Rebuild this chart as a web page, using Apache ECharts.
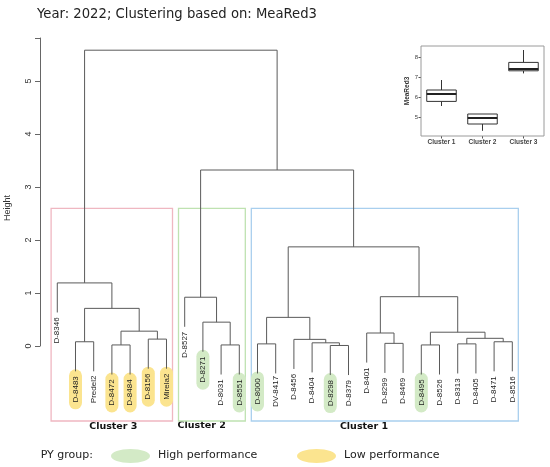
<!DOCTYPE html>
<html><head><meta charset="utf-8">
<script src="https://cdn.jsdelivr.net/npm/echarts@6/dist/echarts.min.js"></script>
<style>html,body{margin:0;padding:0;background:#fff}#c{width:550px;height:467px}</style>
</head><body><div id="c"></div>
<script>
// ---------- data ----------
const titleText = 'Year: 2022; Clustering based on: MeaRed3';
const leafLabels = ['D-8346','D-8483','Predel2','D-8472','D-8484','D-8156','Mirela2',
  'D-8527','D-8271','D-8031','D-8551',
  'D-8000','DV-8417','D-8456','D-8404','D-8298','D-8379','D-8401','D-8299','D-8469',
  'D-8495','D-8526','D-8313','D-8405','D-8471','D-8516'];
const pyGroup = ['', 'low', '', 'low', 'low', 'low', 'low',
  '', 'high', '', 'high',
  'high', '', '', '', 'high', '', '', '', '', 'high', '', '', '', '', ''];
// merges (R hclust style): negative = leaf number (1-based), positive = earlier merge (1-based)
const merges = [
  [-16, -17, 0.01], [-4, -5, 0.02], [-10, -11, 0.02], [-21, -22, 0.02],
  [-12, -13, 0.04], [-23, -24, 0.04], [-19, -20, 0.05], [-15, 1, 0.06],
  [-2, -3, 0.08], [-25, -26, 0.08], [-14, 8, 0.125], [-6, -7, 0.13],
  [6, 10, 0.145], [-18, 7, 0.245], [4, 13, 0.26], [2, 12, 0.28],
  [-9, 3, 0.45], [5, 11, 0.54], [9, 16, 0.71], [-8, 17, 0.92],
  [14, 15, 0.93], [-1, 19, 1.19], [18, 21, 1.87], [20, 23, 3.32], [22, 24, 5.58]
];
const heightTicks = [0, 1, 2, 3, 4, 5];
const clusterNames = ['Cluster 3', 'Cluster 2', 'Cluster 1'];
const clusterSizes = [7, 4, 15];
const boxCategories = ['Cluster 1', 'Cluster 2', 'Cluster 3'];
// [min, Q1, median, Q3, max]
const boxStats = [
  [5.57, 5.80, 6.17, 6.37, 6.87],
  [4.33, 4.67, 4.97, 5.17, 5.17],
  [7.20, 7.33, 7.42, 7.75, 8.37]
];
const boxTicks = [5, 6, 7, 8];
const legendItems = ['High performance', 'Low performance'];

// ---------- derived tree geometry ----------
const nodeX = [];
function xOf(r) { return r < 0 ? (-r - 1) : nodeX[r - 1]; }
merges.forEach((m, i) => { nodeX[i] = (xOf(m[0]) + xOf(m[1])) / 2; });
const hang = 0.1 * Math.max(...merges.map(m => m[2]));
const leafEnd = [];
merges.forEach(m => { [m[0], m[1]].forEach(r => { if (r < 0) leafEnd[-r - 1] = m[2] - hang; }); });
function yOf(r) { return r < 0 ? leafEnd[-r - 1] : merges[r - 1][2]; }
const sortedH = merges.map(m => m[2]).sort((a, b) => b - a);
const cutH = (sortedH[clusterNames.length - 2] + sortedH[clusterNames.length - 1]) / 2;
const clusterRects = [];
let start = 0;
clusterSizes.forEach(n => { clusterRects.push([start - 0.34, start + n - 1 + 0.33, cutH]); start += n; });

const FONT = '"DejaVu Sans", Verdana, sans-serif';
const AFONT = '"Liberation Sans", Arial, sans-serif';
const COL = { high: '#d3eac6', low: '#fbe48f' };
const rectCols = ['#efb7c1', '#bfe2b1', '#a9cfee'];

const dendroSeries = merges.map(m => ({
  type: 'line', xAxisIndex: 0, yAxisIndex: 0, symbol: 'none', clip: false, silent: true,
  animation: false, z: 3,
  lineStyle: { color: '#5a5a5a', width: 1 },
  data: [[xOf(m[0]), yOf(m[0])], [xOf(m[0]), m[2]], [xOf(m[1]), m[2]], [xOf(m[1]), yOf(m[1])]]
}));

const option = {
  animation: false,
  grid: [
    { left: 40, top: 38, width: 489.6, height: 308, containLabel: false },
    { left: 421, top: 46, width: 123, height: 90, show: true, borderColor: '#9a9a9a', borderWidth: 1, backgroundColor: 'transparent', z: 1 }
  ],
  xAxis: [
    { type: 'value', gridIndex: 0, min: -0.95, max: 25.95, show: false },
    { type: 'category', gridIndex: 1, data: boxCategories, boundaryGap: true,
      axisLine: { show: false },
      axisTick: { show: true, alignWithLabel: true, length: 2.5, lineStyle: { color: '#555' } },
      axisLabel: { fontFamily: AFONT, fontSize: 6.5, fontWeight: 'bold', color: '#444', margin: 3 } }
  ],
  yAxis: [
    { type: 'value', gridIndex: 0, min: 0, max: 5.81, interval: 1,
      axisLine: { show: true, onZero: false, lineStyle: { color: '#666', width: 1 } },
      axisTick: { show: true, length: 5, lineStyle: { color: '#666' } },
      splitLine: { show: false },
      axisLabel: { rotate: 90, margin: 7, fontFamily: AFONT, fontSize: 9, color: '#333',
        customValues: heightTicks } },
    { type: 'value', gridIndex: 1, min: 4.07, max: 8.57,
      axisLine: { show: false, onZero: false }, splitLine: { show: false },
      axisTick: { show: true, length: 2.5, customValues: boxTicks, lineStyle: { color: '#555' } },
      axisLabel: { fontFamily: AFONT, fontSize: 6, color: '#444', margin: 3, customValues: boxTicks },
      name: 'MeaRed3', nameLocation: 'middle', nameGap: 6, nameRotate: 90,
      nameTextStyle: { fontFamily: AFONT, fontSize: 6.5, fontWeight: 'bold', color: '#333' } }
  ],
  graphic: [
    { type: 'text', x: 37, y: 15, style: { text: titleText, font: '13.2px ' + FONT, fill: '#222', verticalAlign: 'middle' } },
    { type: 'text', x: 8, y: 208, rotation: Math.PI / 2, style: { text: 'Height', font: '9px ' + AFONT, fill: '#333', align: 'center', verticalAlign: 'middle' } },
    { type: 'text', x: 113.3, y: 427, style: { text: clusterNames[0], font: 'bold 9.5px ' + FONT, fill: '#111', align: 'center', verticalAlign: 'middle' } },
    { type: 'text', x: 201.7, y: 425.5, style: { text: clusterNames[1], font: 'bold 9.5px ' + FONT, fill: '#111', align: 'center', verticalAlign: 'middle' } },
    { type: 'text', x: 364, y: 427, style: { text: clusterNames[2], font: 'bold 9.5px ' + FONT, fill: '#111', align: 'center', verticalAlign: 'middle' } },
    { type: 'text', x: 40.7, y: 455.5, style: { text: 'PY group:', font: '11px ' + FONT, fill: '#222', verticalAlign: 'middle' } },
    { type: 'ellipse', shape: { cx: 130.5, cy: 456, rx: 19.5, ry: 7 }, style: { fill: COL.high } },
    { type: 'text', x: 158, y: 455.5, style: { text: legendItems[0], font: '11px ' + FONT, fill: '#222', verticalAlign: 'middle' } },
    { type: 'ellipse', shape: { cx: 316.5, cy: 456, rx: 19.5, ry: 7 }, style: { fill: COL.low } },
    { type: 'text', x: 344, y: 455.5, style: { text: legendItems[1], font: '11px ' + FONT, fill: '#222', verticalAlign: 'middle' } }
  ],
  series: [
    { type: 'custom', xAxisIndex: 0, yAxisIndex: 0, silent: true, z: 1,
      data: clusterRects,
      renderItem: (params, api) => {
        const a = api.coord([api.value(0), api.value(2)]);
        const b = api.coord([api.value(1), api.value(2)]);
        return { type: 'rect', shape: { x: a[0], y: a[1], width: b[0] - a[0], height: 421 - a[1] },
          style: { fill: 'none', stroke: rectCols[params.dataIndex], lineWidth: 1.3 } };
      } },
    { type: 'custom', xAxisIndex: 0, yAxisIndex: 0, silent: true, z: 2,
      data: leafLabels.map((n, i) => [i, leafEnd[i]]),
      renderItem: (params, api) => {
        const i = params.dataIndex;
        const c = api.coord([api.value(0), api.value(1)]);
        const cy = c[1] + 18;
        const ch = [];
        if (pyGroup[i]) ch.push({ type: 'rect', shape: { x: c[0] - 6.5, y: cy - 20, width: 13, height: 40, r: 6.5 }, style: { fill: COL[pyGroup[i]] } });
        ch.push({ type: 'text', x: c[0], y: cy, rotation: Math.PI / 2,
          style: { text: leafLabels[i], font: '8px ' + AFONT, fill: '#222', align: 'center', verticalAlign: 'middle' } });
        return { type: 'group', children: ch };
      } },
    ...dendroSeries,
    { type: 'custom', xAxisIndex: 1, yAxisIndex: 1, silent: true, z: 3,
      data: boxStats.map((s, i) => [i, ...s]),
      encode: { x: 0, y: [1, 2, 3, 4, 5] },
      renderItem: (params, api) => {
        const x = api.value(0);
        const p = [1, 2, 3, 4, 5].map(k => api.coord([x, api.value(k)]));
        const w = api.size([1, 0])[0] * 0.72;
        const cx = p[0][0];
        const st = { stroke: '#333', lineWidth: 1, fill: 'none' };
        return { type: 'group', children: [
          { type: 'line', shape: { x1: cx, y1: p[0][1], x2: cx, y2: p[1][1] }, style: st },
          { type: 'line', shape: { x1: cx, y1: p[3][1], x2: cx, y2: p[4][1] }, style: st },
          { type: 'rect', shape: { x: cx - w / 2, y: p[3][1], width: w, height: p[1][1] - p[3][1] }, style: { stroke: '#333', lineWidth: 1, fill: '#fff' } },
          { type: 'line', shape: { x1: cx - w / 2, y1: p[2][1], x2: cx + w / 2, y2: p[2][1] }, style: { stroke: '#222', lineWidth: 2 } }
        ] };
      } }
  ]
};
echarts.init(document.getElementById('c'), null, { renderer: 'canvas' }).setOption(option);
</script></body></html>
